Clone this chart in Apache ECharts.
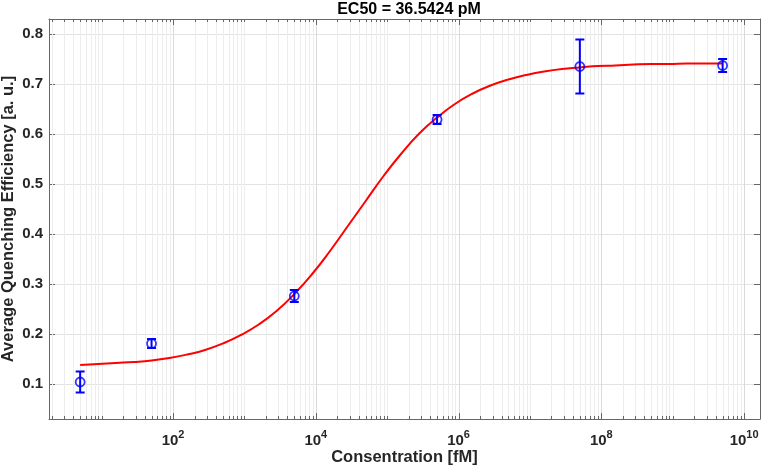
<!DOCTYPE html>
<html>
<head>
<meta charset="utf-8">
<script src="https://cdn.jsdelivr.net/npm/echarts@6/dist/echarts.min.js"></script>
<style>
  html, body { margin: 0; padding: 0; background: #ffffff; }
  #chart { width: 763px; height: 473px; }
</style>
</head>
<body>
<div id="chart"></div>
<script>
// ---- data ----
const titleText = 'EC50 = 36.5424 pM';
const xTitle = 'Consentration [fM]';
const yTitle = 'Average Quenching Efficiency [a. u.]';

const concentrations = [5, 50, 5000, 500000, 50000000, 5000000000];
const efficiency = [0.104, 0.181, 0.276, 0.629, 0.735, 0.737];
const errors = [0.021, 0.009, 0.012, 0.009, 0.054, 0.013];

const fitX = [5, 8.9, 15.8, 28.1, 50, 89, 158, 281, 500, 891, 1585, 2818, 5000, 8891,
  15811, 28117, 50000, 88914, 158114, 281171, 500000, 889140, 1581139, 2811707,
  5e6, 8.89e6, 1.58e7, 2.81e7, 5e7, 8.89e7, 1.58e8, 2.81e8, 5e8, 8.89e8, 1.58e9, 2.81e9, 5e9];
const fitY = [0.138, 0.140, 0.142, 0.144, 0.147, 0.152, 0.159, 0.168, 0.181, 0.198,
  0.219, 0.246, 0.280, 0.320, 0.366, 0.416, 0.466, 0.516, 0.561, 0.601, 0.633,
  0.660, 0.681, 0.697, 0.709, 0.718, 0.725, 0.730, 0.733, 0.736, 0.737, 0.739,
  0.740, 0.740, 0.741, 0.741, 0.741];

const yTicks = [0.1, 0.2, 0.3, 0.4, 0.5, 0.6, 0.7, 0.8];
const xLabelExponents = [2, 4, 6, 8, 10];
const minorMultipliers = [2, 3, 4, 5, 6, 7, 8, 9];

// ---- axis limits ----
const xMin = 1.83, xMax = 1.67e10;
const yMin = 0.03, yMax = 0.83;

// log grid positions: [value, isMajor]
const xGridTicks = [];
for (let d = 0; d <= 10; d++) {
  const base = Math.pow(10, d);
  if (base >= xMin && base <= xMax) xGridTicks.push([base, xLabelExponents.indexOf(d) >= 0 ? 1 : 0]);
  minorMultipliers.forEach(function (m) {
    const v = m * base;
    if (v >= xMin && v <= xMax) xGridTicks.push([v, 0]);
  });
}

const fontFam = '"Liberation Sans", Arial, Helvetica, sans-serif';
const textCol = '#262626';
const axisCol = '#666666';

const chart = echarts.init(document.getElementById('chart'), null, { renderer: 'canvas' });

function xLabelFmt(value) {
  const l = Math.log10(value);
  const e = Math.round(l);
  if (Math.abs(l - e) > 1e-6 || xLabelExponents.indexOf(e) < 0) return '';
  return '{b|10}{s|' + e + '}';
}
function yLabelFmt(value) {
  for (let i = 0; i < yTicks.length; i++) {
    if (Math.abs(value - yTicks[i]) < 1e-6) return yTicks[i].toFixed(1);
  }
  return '';
}

const option = {
  animation: false,
  backgroundColor: '#ffffff',
  title: {
    text: titleText,
    left: 404,
    textAlign: 'center',
    top: -3,
    textStyle: { fontFamily: fontFam, fontSize: 16, fontWeight: 'bold', color: '#000000' }
  },
  grid: { left: 49, right: 3, top: 19, bottom: 54, containLabel: false, outerBoundsMode: 'none' },
  xAxis: [{
    type: 'log',
    logBase: 10,
    min: xMin,
    max: xMax,
    splitNumber: 5,
    name: xTitle,
    nameLocation: 'middle',
    nameGap: 30,
    nameMoveOverlap: false,
    nameTextStyle: { fontFamily: fontFam, fontSize: 16.5, fontWeight: 'bold', color: textCol },
    axisLine: { show: true, lineStyle: { color: axisCol, width: 1 } },
    axisTick: { show: false },
    splitLine: { show: false },
    axisLabel: {
      show: true,
      margin: 10,
      showMinLabel: false,
      showMaxLabel: false,
      formatter: xLabelFmt,
      rich: {
        b: { fontFamily: fontFam, fontSize: 15, fontWeight: 'bold', color: textCol, verticalAlign: 'bottom' },
        s: { fontFamily: fontFam, fontSize: 11, fontWeight: 'bold', color: textCol, verticalAlign: 'bottom', padding: [0, 0, 8, 0] }
      }
    }
  }, {
    type: 'log',
    logBase: 10,
    min: xMin,
    max: xMax,
    splitNumber: 5,
    position: 'top',
    axisLine: { show: true, lineStyle: { color: axisCol, width: 1 } },
    axisTick: { show: false },
    splitLine: { show: false },
    axisLabel: { show: false }
  }],
  yAxis: [{
    type: 'value',
    min: yMin,
    max: yMax,
    splitNumber: 8,
    name: yTitle,
    nameLocation: 'middle',
    nameGap: 32,
    nameMoveOverlap: false,
    nameRotate: 90,
    nameTextStyle: { fontFamily: fontFam, fontSize: 16.5, fontWeight: 'bold', color: textCol },
    axisLine: { show: true, lineStyle: { color: axisCol, width: 1 } },
    axisTick: { show: true, inside: true, length: 6, lineStyle: { color: axisCol } },
    splitLine: { show: true, lineStyle: { color: '#e3e3e3', width: 1 } },
    axisLabel: {
      show: true,
      margin: 6,
      showMinLabel: false,
      showMaxLabel: false,
      formatter: yLabelFmt,
      fontFamily: fontFam, fontSize: 15, fontWeight: 'bold', color: textCol
    }
  }, {
    type: 'value',
    min: yMin,
    max: yMax,
    splitNumber: 8,
    position: 'right',
    axisLine: { show: true, lineStyle: { color: axisCol, width: 1 } },
    axisTick: { show: true, inside: true, length: 6, lineStyle: { color: axisCol } },
    splitLine: { show: false },
    axisLabel: { show: false }
  }],
  series: [
    {
      name: 'xGrid',
      type: 'custom',
      xAxisIndex: 0,
      yAxisIndex: 0,
      silent: true,
      z: 1,
      data: xGridTicks,
      encode: { x: 0 },
      renderItem: function (params, api) {
        const cs = params.coordSys;
        const major = api.value(1) === 1;
        const x = Math.round(api.coord([api.value(0), 0.5])[0]) + 0.5;
        const top = cs.y, bottom = cs.y + cs.height;
        const len = major ? 6 : 3;
        return {
          type: 'group',
          children: [
            { type: 'line', shape: { x1: x, y1: top, x2: x, y2: bottom }, style: { stroke: major ? '#dadada' : '#ededed', lineWidth: 1 } },
            { type: 'line', shape: { x1: x, y1: bottom, x2: x, y2: bottom - len }, style: { stroke: axisCol, lineWidth: 1 } },
            { type: 'line', shape: { x1: x, y1: top, x2: x, y2: top + len }, style: { stroke: axisCol, lineWidth: 1 } }
          ]
        };
      }
    },
    {
      name: 'fit',
      type: 'line',
      xAxisIndex: 0,
      yAxisIndex: 0,
      z: 3,
      smooth: true,
      showSymbol: false,
      symbol: 'none',
      data: fitX.map(function (x, i) { return [x, fitY[i]]; }),
      lineStyle: { color: '#ff0000', width: 2 }
    },
    {
      name: 'errorbars',
      type: 'custom',
      xAxisIndex: 0,
      yAxisIndex: 0,
      z: 4,
      data: concentrations.map(function (c, i) { return [c, efficiency[i] - errors[i], efficiency[i] + errors[i]]; }),
      encode: { x: 0, y: [1, 2] },
      renderItem: function (params, api) {
        const x = api.value(0);
        const pHi = api.coord([x, api.value(2)]);
        const pLo = api.coord([x, api.value(1)]);
        const hw = 4.5;
        const st = { stroke: '#0000ff', lineWidth: 2 };
        return {
          type: 'group',
          children: [
            { type: 'line', shape: { x1: pHi[0], y1: pHi[1], x2: pLo[0], y2: pLo[1] }, style: st },
            { type: 'line', shape: { x1: pHi[0] - hw, y1: pHi[1], x2: pHi[0] + hw, y2: pHi[1] }, style: st },
            { type: 'line', shape: { x1: pLo[0] - hw, y1: pLo[1], x2: pLo[0] + hw, y2: pLo[1] }, style: st }
          ]
        };
      }
    },
    {
      name: 'points',
      type: 'scatter',
      xAxisIndex: 0,
      yAxisIndex: 0,
      z: 5,
      symbol: 'circle',
      symbolSize: 9,
      data: concentrations.map(function (c, i) { return [c, efficiency[i]]; }),
      itemStyle: { color: 'rgba(0,0,0,0)', borderColor: '#0000ff', borderWidth: 1.8 }
    }
  ]
};

chart.setOption(option);
</script>
</body>
</html>
